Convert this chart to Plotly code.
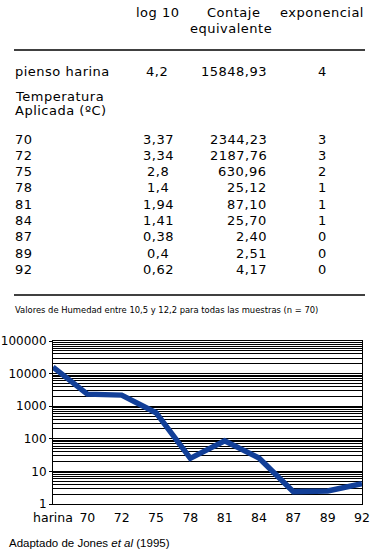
import plotly.graph_objects as go

# ---------------- data ----------------
row_labels = ["70", "72", "75", "78", "81", "84", "87", "89", "92"]
log10_vals = [3.37, 3.34, 2.8, 1.4, 1.94, 1.41, 0.38, 0.4, 0.62]
contaje_vals = [2344.23, 2187.76, 630.96, 25.12, 87.10, 25.70, 2.40, 2.51, 4.17]
exponencial_vals = [3, 3, 2, 1, 1, 1, 0, 0, 0]

harina_label = "pienso harina"
harina_log10 = 4.2
harina_contaje = 15848.93
harina_exp = 4

chart_categories = ["harina"] + row_labels
chart_values = [harina_contaje] + contaje_vals

y_tick_vals = [1, 10, 100, 1000, 10000, 100000]
y_tick_text = ["1", "10", "100", "1000", "10000", "100000"]
minor_grid_vals = [m * 10 ** d for d in range(0, 5) for m in range(1, 10)] + [100000]

W, H = 374, 556
TF = "DejaVu Sans"
LINE_COLOR = "#123f98"


def fmt(v, nd=None):
    s = f"{v:.{nd}f}" if nd is not None else str(v)
    return s.replace(".", ",")


def px(x):
    return x / W


def py(y):
    return 1 - y / H


fig = go.Figure()

# invisible trace to activate the minor-grid overlay axis
fig.add_trace(go.Scatter(x=[chart_categories[0]], y=[1], yaxis="y2", mode="markers",
                         marker=dict(opacity=0), hoverinfo="skip", showlegend=False))
fig.add_trace(go.Scatter(x=chart_categories, y=chart_values, mode="lines",
                         line=dict(color=LINE_COLOR, width=5.5),
                         hoverinfo="skip", showlegend=False))

annotations = []


def txt(text, x, y, size=13, xanchor="left", family=TF, yanchor="middle"):
    annotations.append(dict(text=text, x=px(x), y=py(y), xref="paper", yref="paper",
                            xanchor=xanchor, yanchor=yanchor, showarrow=False, borderpad=0,
                            font=dict(family=family, size=size, color="black")))


LS = "letter-spacing:0.5px"


def sp(t):
    return f"<span style='{LS}'>{t}</span>"


# header
txt(sp("log 10"), 157.5, 13, xanchor="center")
txt(sp("Contaje"), 233, 13, xanchor="center")
txt(sp("equivalente"), 231, 28, xanchor="center")
txt(sp("exponencial"), 322, 13, xanchor="center")

# harina row
txt(sp(harina_label), 14, 72)
txt(sp(fmt(harina_log10)), 157, 72, xanchor="center")
txt(sp(fmt(harina_contaje, 2)), 268, 72, xanchor="right")
txt(sp(str(harina_exp)), 322, 72, xanchor="center")

txt(sp("Temperatura"), 14, 96)
txt(sp("Aplicada (ºC)"), 14, 111)

row_y0, row_dy = 139, 16.3
for i, lab in enumerate(row_labels):
    yy = row_y0 + i * row_dy
    txt(sp(lab), 14, yy)
    txt(sp(fmt(log10_vals[i])), 158, yy, xanchor="center")
    txt(sp(fmt(contaje_vals[i], 2)), 268, yy, xanchor="right")
    txt(sp(str(exponencial_vals[i])), 322, yy, xanchor="center")

txt("Valores de Humedad entre 10,5 y 12,2 para todas las muestras (n = 70)", 14, 310,
    size=8.4, family="DejaVu Sans")
txt("Adaptado de Jones <i>et al</i> (1995)", 8, 543, size=11.5, family="Liberation Sans")

shapes = [
    dict(type="line", xref="paper", yref="paper", x0=px(14), x1=px(365), y0=py(50), y1=py(50),
         line=dict(color="black", width=1.5)),
    dict(type="line", xref="paper", yref="paper", x0=px(14), x1=px(365), y0=py(295), y1=py(295),
         line=dict(color="black", width=1.5)),
]

x_dom = [px(53), px(362)]
y_dom = [py(504), py(341)]

fig.update_layout(
    width=W, height=H,
    margin=dict(l=0, r=0, t=0, b=0, autoexpand=False),
    paper_bgcolor="white", plot_bgcolor="white",
    annotations=annotations, shapes=shapes,
    xaxis=dict(domain=x_dom, type="category", range=[0, len(chart_categories) - 1],
               automargin=False,
               showgrid=False, zeroline=False, showline=True, linecolor="black", linewidth=1,
               mirror=True, ticks="", ticklabelstandoff=2,
               tickfont=dict(family=TF, size=12.5, color="black"),
               fixedrange=True),
    yaxis=dict(domain=y_dom, type="log", range=[0, 5], tickvals=y_tick_vals, ticktext=y_tick_text,
               automargin=False,
               showgrid=False, showline=True, linecolor="black", linewidth=1, mirror=True,
               ticks="outside", ticklen=3, tickcolor="black",
               tickfont=dict(family=TF, size=12, color="black"), fixedrange=True),
    yaxis2=dict(domain=y_dom, type="log", range=[0, 5], overlaying="y", anchor="x",
                automargin=False,
                tickvals=minor_grid_vals, showticklabels=False, showgrid=True,
                gridcolor="black", gridwidth=1, ticks="", showline=False, zeroline=False,
                layer="below traces", fixedrange=True),
    showlegend=False,
)

fig.write_html("out.html",
               config={"displayModeBar": False, "staticPlot": True},
               post_script="document.body.style.margin='0';document.body.style.overflow='hidden';")
